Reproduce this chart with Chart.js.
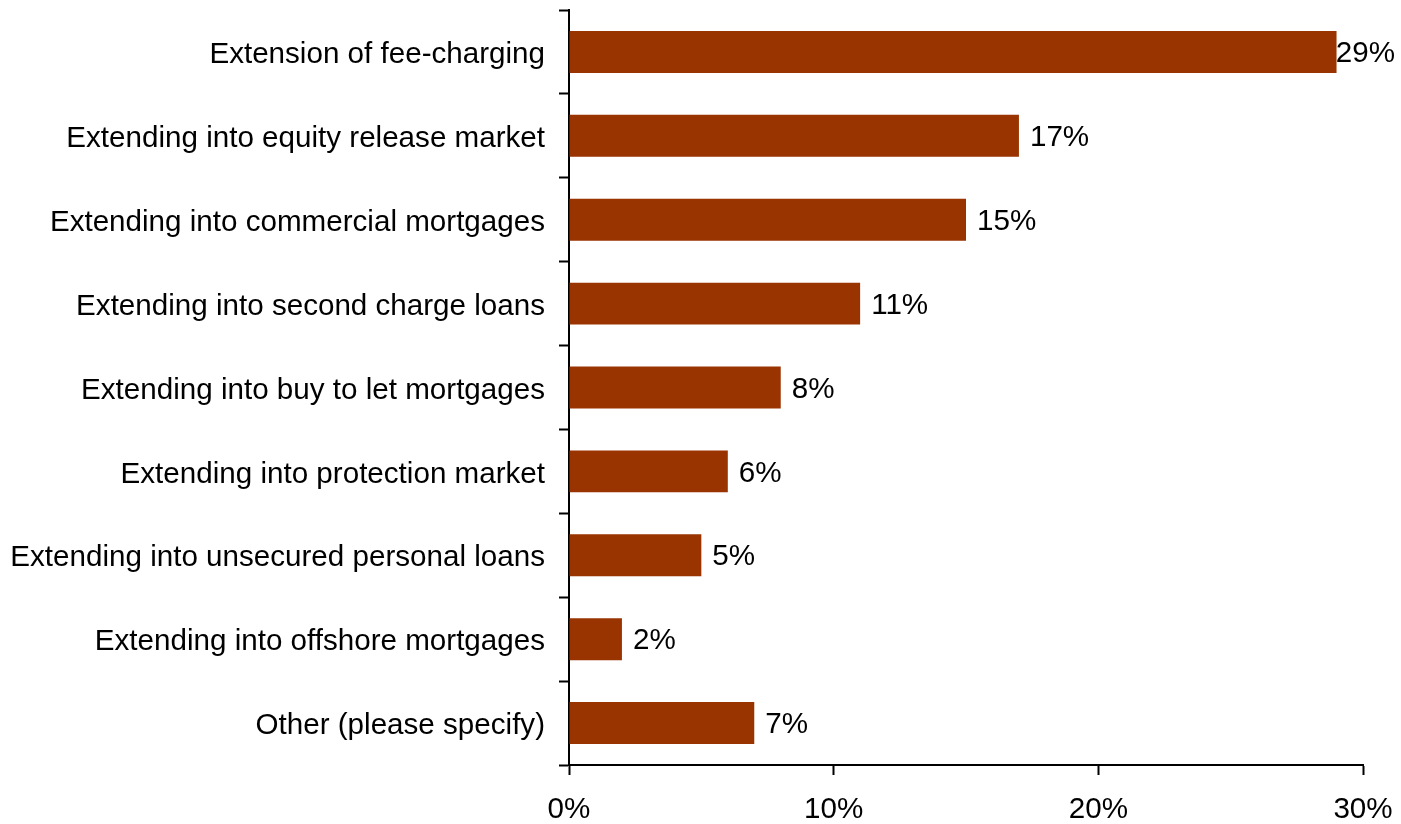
<!DOCTYPE html>
<html>
<head>
<meta charset="utf-8">
<script src="https://cdn.jsdelivr.net/npm/chart.js@4/dist/chart.umd.min.js"></script>
<style>
  html, body { margin: 0; padding: 0; background: #fff; }
  #wrap { width: 1401px; height: 824px; }
</style>
</head>
<body>
<div id="wrap"><canvas id="chart" width="1401" height="824"></canvas></div>
<script>
const categories = [
    'Extension of fee-charging',
    'Extending into equity release market',
    'Extending into commercial mortgages',
    'Extending into second charge loans',
    'Extending into buy to let mortgages',
    'Extending into protection market',
    'Extending into unsecured personal loans',
    'Extending into offshore mortgages',
    'Other (please specify)'
]
const shares = [29, 17, 15, 11, 8, 6, 5, 2, 7]
const xTicks = [0, 10, 20, 30]

const barColour = '#993300'
const fontFamily = '"Liberation Sans", Arial, sans-serif'
const fontSize = 29.6

// value labels right of each bar, pulled back inside the canvas when they'd overflow
const valueLabels = {
    id: 'valueLabels',
    afterDatasetsDraw (chart) {
        const ctx = chart.ctx
        const meta = chart.getDatasetMeta(0)
        ctx.save()
        ctx.font = fontSize + 'px ' + fontFamily
        ctx.fillStyle = '#000'
        ctx.textBaseline = 'middle'
        meta.data.forEach((bar, i) => {
            const txt = shares[i] + '%'
            const w = ctx.measureText(txt).width
            let x = bar.x + 11
            if (x + w > chart.width - 6) x = chart.width - 6 - w
            ctx.fillText(txt, x, bar.y + 2)
        })
        ctx.restore()
    }
}

new Chart(document.getElementById('chart'), {
    type: 'bar',
    data: {
        labels: categories,
        datasets: [{
            data: shares,
            backgroundColor: barColour,
            borderWidth: 0,
            categoryPercentage: 1,
            barPercentage: 0.5
        }]
    },
    options: {
        indexAxis: 'y',
        responsive: false,
        animation: false,
        layout: { padding: { top: 10, right: 38, left: 0, bottom: 0 } },
        plugins: {
            legend: { display: false },
            tooltip: { enabled: false }
        },
        scales: {
            x: {
                min: 0,
                max: 30,
                afterBuildTicks (axis) {
                    axis.ticks = xTicks.map(v => ({ value: v }))
                },
                afterFit (axis) {
                    axis.height = 59
                    axis.paddingLeft = 0
                    axis.paddingRight = 0
                },
                grid: {
                    drawOnChartArea: false,
                    tickLength: 10,
                    tickWidth: 2,
                    color: '#000'
                },
                border: { color: '#000', width: 2 },
                ticks: {
                    color: '#000',
                    padding: 17,
                    font: { family: fontFamily, size: fontSize },
                    callback: v => v + '%'
                }
            },
            y: {
                afterFit (axis) {
                    axis.width = 569
                    axis.paddingTop = 0
                    axis.paddingBottom = 0
                },
                grid: {
                    drawOnChartArea: false,
                    tickLength: 10,
                    tickWidth: 2,
                    color: '#000'
                },
                border: { color: '#000', width: 2 },
                ticks: {
                    color: '#000',
                    padding: 14,
                    labelOffset: 3,
                    autoSkip: false,
                    font: { family: fontFamily, size: fontSize }
                }
            }
        }
    },
    plugins: [valueLabels]
})
</script>
</body>
</html>
